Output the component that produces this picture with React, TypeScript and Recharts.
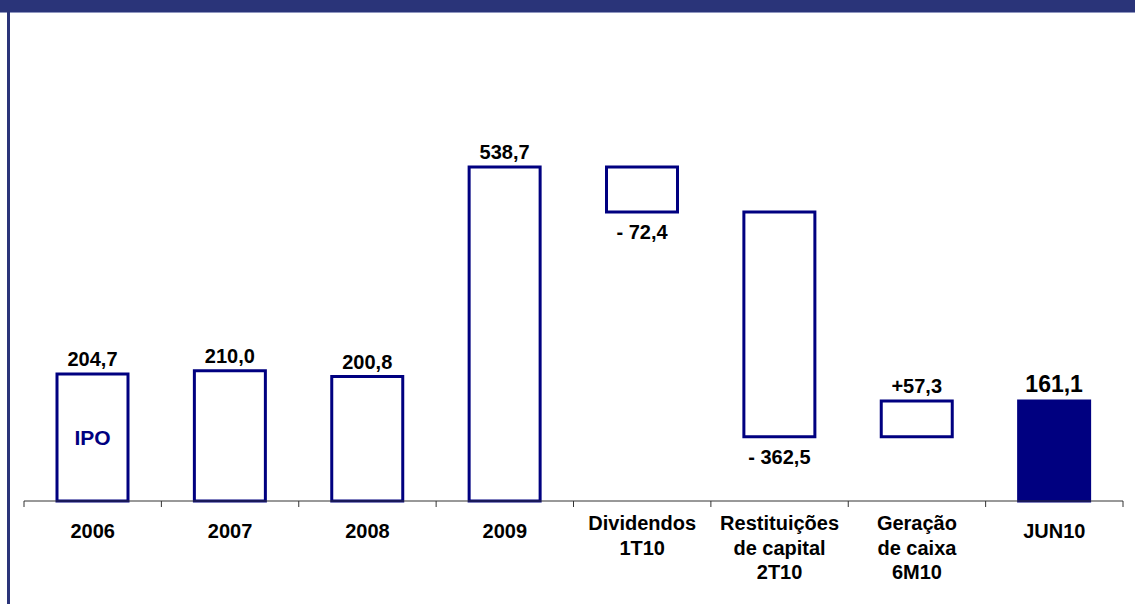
import React from 'react';
import { BarChart, Bar, XAxis, YAxis, Cell, LabelList } from 'recharts';

const categories = ['2006', '2007', '2008', '2009', 'Dividendos\n1T10', 'Restituições\nde capital\n2T10', 'Geração\nde caixa\n6M10', 'JUN10'];
const baseValues = [0, 0, 0, 0, 466.3, 103.8, 103.8, 0];
const barValues = [204.7, 210.0, 200.8, 538.7, 72.4, 362.5, 57.3, 161.1];
const valueLabels = ['204,7', '210,0', '200,8', '538,7', '- 72,4', '- 362,5', '+57,3', '161,1'];
const annotations = ['IPO', '', '', '', '', '', '', ''];

const data = categories.map((name, i) => ({
  name,
  base: baseValues[i],
  value: barValues[i],
  label: valueLabels[i],
  note: annotations[i],
}));

const W = 1135;
const H = 604;
const MARGIN = { top: 67, right: 12, left: 24, bottom: 0 };
const NAVY = '#000080';
const BAND = '#2a3479';
const FONT = '"Liberation Sans", Arial, Helvetica, sans-serif';
const bandW = (W - MARGIN.left - MARGIN.right) / categories.length;

const renderTick = (props: any) => {
  const { x, y, payload, index } = props;
  const lines = String(payload.value).split('\n');
  const start = lines.length === 1 ? 37 : 29;
  const last = index === categories.length - 1;
  return (
    <g>
      <line x1={x - bandW / 2} x2={x - bandW / 2} y1={y} y2={y + 6} stroke="#333" strokeWidth={1} />
      {last && <line x1={x + bandW / 2} x2={x + bandW / 2} y1={y} y2={y + 6} stroke="#333" strokeWidth={1} />}
      <text x={x} y={y + start} textAnchor="middle" fontFamily={FONT} fontWeight="bold" fontSize={20} fill="#000">
        {lines.map((l, i) => (
          <tspan key={i} x={x} dy={i === 0 ? 0 : 24.5}>{l}</tspan>
        ))}
      </text>
    </g>
  );
};

const renderLabel = (props: any) => {
  const { x, y, width, height, index } = props;
  const d = data[index];
  const cx = x + width / 2;
  const below = d.label.startsWith('-');
  const big = index === categories.length - 1;
  const ty = below ? y + height + 27 : y - (big ? 9 : 8);
  return (
    <g>
      <text x={cx} y={ty} textAnchor="middle" fontFamily={FONT} fontWeight="bold" fontSize={big ? 23 : 20} fill="#000">
        {d.label}
      </text>
      {d.note && (
        <text x={cx} y={y + height - 56} textAnchor="middle" fontFamily={FONT} fontWeight="bold" fontSize={21} fill={NAVY}>
          {d.note}
        </text>
      )}
    </g>
  );
};

export default function App() {
  return (
    <div style={{ position: 'absolute', left: 0, top: 0, width: W, height: H, background: '#fff', overflow: 'hidden' }}>
      <div style={{ position: 'absolute', left: 0, top: 0, width: W, height: 12, background: BAND }} />
      <div style={{ position: 'absolute', left: 0, top: 12, width: W, height: 1, background: '#8f96c0' }} />
      <div style={{ position: 'absolute', left: 7, top: 10, width: 3, height: H - 10, background: BAND }} />
      <div style={{ position: 'absolute', left: 0, top: 0 }}>
        <BarChart width={W} height={H} data={data} margin={MARGIN} barSize={71}>
          <XAxis
            dataKey="name"
            height={103}
            interval={0}
            axisLine={{ stroke: '#333', strokeWidth: 1 }}
            tickLine={false}
            tickSize={0}
            tickMargin={0}
            tick={renderTick}
          />
          <YAxis hide domain={[0, 700]} />
          <Bar dataKey="base" stackId="a" fill="transparent" isAnimationActive={false} />
          <Bar dataKey="value" stackId="a" stroke={NAVY} strokeWidth={3} isAnimationActive={false}>
            {data.map((d, i) => (
              <Cell key={i} fill={i === categories.length - 1 ? NAVY : '#fff'} />
            ))}
            <LabelList dataKey="label" content={renderLabel} />
          </Bar>
        </BarChart>
      </div>
    </div>
  );
}
